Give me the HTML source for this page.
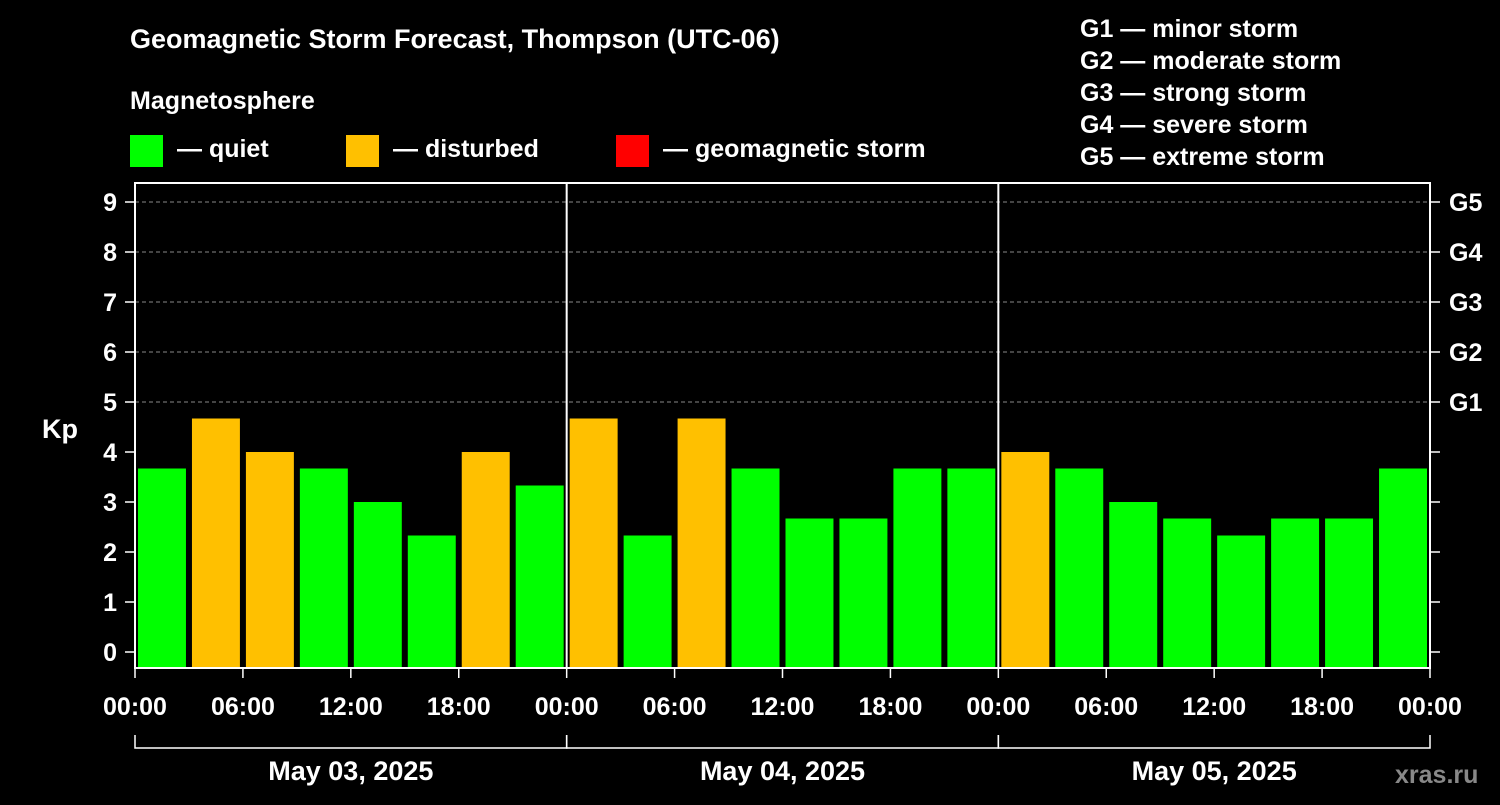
<!DOCTYPE html>
<html><head><meta charset="utf-8"><style>
body{margin:0;background:#000;width:1500px;height:800px;overflow:hidden}
svg text{font-family:"Liberation Sans",sans-serif;font-weight:bold;fill:#fff}
</style></head><body>
<svg id="c" width="1500" height="800">
<text x="130" y="48" font-size="27">Geomagnetic Storm Forecast, Thompson (UTC-06)</text>
<text x="130" y="109" font-size="25">Magnetosphere</text>
<g><rect x="130" y="135" width="33" height="32" fill="#00ff00"/><text x="177" y="157" font-size="25">— quiet</text></g>
<g><rect x="346" y="135" width="33" height="32" fill="#ffc000"/><text x="393" y="157" font-size="25">— disturbed</text></g>
<g><rect x="616" y="135" width="33" height="32" fill="#ff0000"/><text x="663" y="157" font-size="25">— geomagnetic storm</text></g>
<g font-size="25">
<text x="1080" y="37">G1 — minor storm</text><text x="1080" y="69">G2 — moderate storm</text><text x="1080" y="101">G3 — strong storm</text><text x="1080" y="133">G4 — severe storm</text><text x="1080" y="165">G5 — extreme storm</text></g>
<text x="42" y="438" font-size="27">Kp</text>
<text x="1395" y="783" font-size="25" fill="#888" style="fill:#888">xras.ru</text>
<g id="plot"></g>
</svg>
<script>
const kpValues=[3.67,4.67,4,3.67,3,2.33,4,3.33, 4.67,2.33,4.67,3.67,2.67,2.67,3.67,3.67, 4,3.67,3,2.67,2.33,2.67,2.67,3.67];
const dayLabels=["May 03, 2025","May 04, 2025","May 05, 2025"];
const hourLabels=["00:00","06:00","12:00","18:00"];
const yTicks=[0,1,2,3,4,5,6,7,8,9];
const gLabels=["G1","G2","G3","G4","G5"];
const NS="http://www.w3.org/2000/svg";
const L=135,R=1430,T=183,B=668;
const y=v=>652-v*50;
const nH=kpValues.length*3;
const x=h=>L+(R-L)*h/nH;
const g=document.getElementById('plot');
function mk(t,a,txt){const e=document.createElementNS(NS,t);for(const k in a)e.setAttribute(k,a[k]);if(txt!==undefined)e.textContent=txt;g.appendChild(e);return e;}
yTicks.forEach(v=>{
 if(v>=5){const l=mk('line',{x1:L,x2:R,y1:y(v),y2:y(v),stroke:'#888','stroke-dasharray':'4,3'});
 
 }
 const t=mk('text',{x:117,y:y(v)+9,'font-size':25,'text-anchor':'end'},v);
 
 
 const tk=mk('line',{x1:125,x2:L,y1:y(v),y2:y(v),stroke:'#fff','stroke-width':1.5});
 
 
 const tr=mk('line',{x1:R,x2:R+10,y1:y(v),y2:y(v),stroke:'#fff','stroke-width':1.5});
 
 
});
gLabels.forEach((s,i)=>{const t=mk('text',{x:1449,y:y(i+5)+9,'font-size':25},s);
 
 });
kpValues.forEach((v,i)=>{
 const c=v>=5?'#ff0000':(v>=4?'#ffc000':'#00ff00');
 const r=mk('rect',{x:x(i*3)+3,y:y(v),width:x(3)-L-6,height:B-y(v),fill:c});
 
 
});
mk('rect',{x:L,y:T,width:R-L,height:B-T,fill:'none',stroke:'#fff','stroke-width':2});
for(let d=1;d<dayLabels.length;d++){const l=mk('line',{x1:x(d*24),x2:x(d*24),y1:T,y2:B,stroke:'#fff','stroke-width':2});
 
 }
for(let h=0;h<=nH;h+=6){
 const lab=hourLabels[(h/6)%4];
 const t=mk('text',{x:x(h),y:715,'font-size':25,'text-anchor':'middle'},lab);
 
 
 const tk=mk('line',{x1:x(h),x2:x(h),y1:B,y2:B+10,stroke:'#fff','stroke-width':1.5});
 
 
}
dayLabels.forEach((s,d)=>{
 const a=x(d*24),b=x(d*24+24);
 const p=mk('path',{d:`M${a},735V748H${b}V735`,stroke:'#fff','stroke-width':1.5,fill:'none'});
 
 
 const t=mk('text',{x:(a+b)/2,y:780,'font-size':27,'text-anchor':'middle'},s);
 
 
});
</script>
</body></html>
